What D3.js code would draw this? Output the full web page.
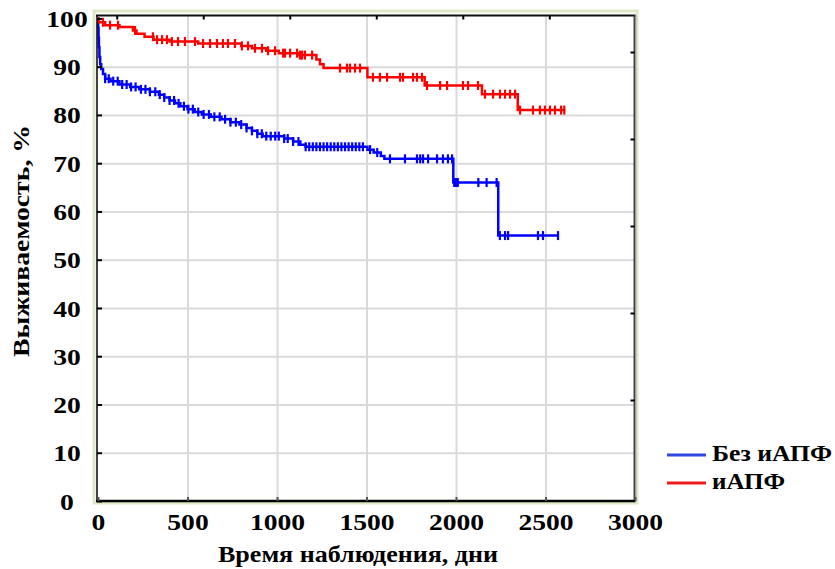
<!DOCTYPE html>
<html>
<head>
<meta charset="utf-8">
<script src="https://cdn.jsdelivr.net/npm/d3@7"></script>
<style>
  html, body { margin: 0; padding: 0; background: #ffffff; }
  svg { display: block; }
  text { font-family: "Liberation Serif", "Times New Roman", serif; font-weight: bold; fill: #000; }
</style>
</head>
<body>
<svg id="chart" width="835" height="569"></svg>
<script>
// Kaplan–Meier survival, two groups: step times (days) and survival (%) after each step
const groupNames = ["Без иАПФ", "иАПФ"];
const groupColors = ["#0000ff", "#ff0000"];

const stepTimesNoAce = [0, 1, 3, 5, 8, 12, 18, 28, 40, 70, 120, 180, 230, 290, 340, 370, 400, 430, 460, 500,
  540, 580, 630, 690, 740, 790, 830, 860, 890, 920, 1040, 1090, 1130, 1160, 1505, 1540, 1580, 1600, 1985, 2236];
const survNoAce = [100, 98, 96, 94, 92, 90.5, 89.5, 88.5, 87.5, 87, 86.3, 85.8, 85.3, 84.8, 84.2, 83.6, 83, 82.4, 81.8, 81.2,
  80.6, 80.1, 79.6, 79.1, 78.5, 78, 77.3, 76.7, 76.1, 75.6, 75.1, 74.5, 73.8, 73.4, 72.8, 72.2, 71.5, 70.9, 66, 55];
const lastTimeNoAce = 2575;
const censorNoAce = [40, 60, 85, 110, 135, 160, 185, 210, 240, 265, 290, 320, 345, 370, 400, 425, 450, 480, 505, 530,
  560, 590, 620, 650, 680, 710, 740, 770, 800, 830, 860, 890, 915, 940, 965, 990, 1010, 1040, 1060, 1090, 1120,
  1160, 1180, 1200, 1220, 1240, 1260, 1280, 1300, 1320, 1340, 1360, 1380, 1400, 1420, 1440, 1460, 1480, 1520, 1560,
  1631, 1715, 1782, 1800, 1816, 1844, 1894, 1927, 1955, 1978, 1990, 2000, 2010, 2125, 2171, 2227,
  2245, 2274, 2291, 2458, 2486, 2570];

const stepTimesAce = [0, 3, 40, 120, 195, 215, 260, 310, 400, 560, 800, 860, 940, 1010, 1120, 1220, 1240, 1260,
  1505, 1825, 2145, 2345];
const survAce = [100, 99.2, 98.6, 98.2, 97.5, 96.8, 96.2, 95.6, 95.2, 94.8, 94.3, 93.8, 93.3, 92.8, 92.4, 91.5, 90.5, 89.7,
  87.8, 86.1, 84.3, 81.0];
const lastTimeAce = 2610;
const censorAce = [28, 67, 112, 207, 307, 330, 358, 385, 413, 447, 486, 542, 587, 626, 665, 698, 726, 765, 804,
  838, 877, 916, 950, 989, 1034, 1045, 1073, 1112, 1128, 1140, 1156, 1196, 1352, 1391, 1408, 1436, 1464,
  1536, 1575, 1615, 1687, 1704, 1760, 1782, 1810, 1838, 1911, 1950, 2039, 2067, 2123, 2162, 2207, 2246,
  2274, 2302, 2330, 2358, 2430, 2469, 2497, 2525, 2553, 2587, 2605];

// axis ticks
const xTicks = [0, 500, 1000, 1500, 2000, 2500, 3000];
const yTicks = [0, 10, 20, 30, 40, 50, 60, 70, 80, 90, 100];
const xTitle = "Время наблюдения, дни";
const yTitle = "Выживаемость, %";

const svg = d3.select("#chart");

// plot geometry
const plotLeft = 97, plotRight = 634.5, plotTop = 15.5, plotBottom = 501;
const x = d3.scaleLinear().domain([0, 3000]).range([98, 635]);
const y = d3.scaleLinear().domain([0, 100]).range([501, 18.4]);

// pale outer frame
svg.append("rect")
  .attr("x", 94).attr("y", 11)
  .attr("width", 543).attr("height", 492)
  .attr("fill", "none").attr("stroke", "#dde8c6").attr("stroke-width", 3);

// plot background
svg.append("rect")
  .attr("x", plotLeft).attr("y", plotTop)
  .attr("width", plotRight - plotLeft).attr("height", plotBottom - plotTop)
  .attr("fill", "#ffffff");

// gridlines
const gridX = svg.append("g")
  .attr("transform", `translate(0,${plotBottom})`)
  .call(d3.axisBottom(x).tickValues(xTicks.slice(1, -1)).tickSize(-(plotBottom - plotTop)).tickFormat(""));
const gridY = svg.append("g")
  .attr("transform", `translate(${plotLeft},0)`)
  .call(d3.axisLeft(y).tickValues(yTicks.slice(1, -1)).tickSize(-(plotRight - plotLeft)).tickFormat(""));
[gridX, gridY].forEach(g => {
  g.select(".domain").remove();
  g.selectAll("line").attr("stroke", "#dadada").attr("stroke-width", 2);
});

// curves
const line = d3.line()
  .x(d => x(d[0]))
  .y(d => y(d[1]))
  .curve(d3.curveStepAfter);

function stepPoints(times, surv, last) {
  const pts = times.map((t, i) => [t, surv[i]]);
  pts.push([last, surv[surv.length - 1]]);
  return pts;
}
function survAt(times, surv, t) {
  let v = surv[0];
  for (let i = 0; i < times.length; i++) { if (times[i] <= t) v = surv[i]; }
  return v;
}

const groups = [
  { times: stepTimesNoAce, surv: survNoAce, last: lastTimeNoAce, censor: censorNoAce, color: groupColors[0] },
  { times: stepTimesAce, surv: survAce, last: lastTimeAce, censor: censorAce, color: groupColors[1] }
];

groups.forEach(gr => {
  const g = svg.append("g");
  g.append("path")
    .datum(stepPoints(gr.times, gr.surv, gr.last))
    .attr("fill", "none")
    .attr("stroke", gr.color)
    .attr("stroke-width", 2.5)
    .attr("d", line);
  // censored observations
  g.selectAll("line.cens")
    .data(gr.censor)
    .join("line")
    .attr("class", "cens")
    .attr("x1", d => x(d)).attr("x2", d => x(d))
    .attr("y1", d => y(survAt(gr.times, gr.surv, d)) - 4.5)
    .attr("y2", d => y(survAt(gr.times, gr.surv, d)) + 4.5)
    .attr("stroke", gr.color)
    .attr("stroke-width", 2.2);
});

// plot border
svg.append("line").attr("x1", plotLeft - 1).attr("x2", plotRight + 1).attr("y1", plotTop).attr("y2", plotTop)
  .attr("stroke", "#111").attr("stroke-width", 2);
svg.append("line").attr("x1", plotRight).attr("x2", plotRight).attr("y1", plotTop).attr("y2", plotBottom)
  .attr("stroke", "#444").attr("stroke-width", 2);
svg.append("line").attr("x1", plotRight + 2).attr("x2", plotRight + 2).attr("y1", plotTop).attr("y2", plotBottom)
  .attr("stroke", "#c8c8c8").attr("stroke-width", 1);

// secondary top and right tick marks
const topScale = d3.scaleLinear().domain([0, 6]).range([30.2, 549.3]);
const topAxis = svg.append("g").attr("transform", `translate(0,${plotTop})`)
  .call(d3.axisTop(topScale).tickValues([1, 2, 3, 4, 5, 6]).tickSize(-4).tickFormat(""));
const rightScale = d3.scaleLinear().domain([0, 4]).range([52, 400]);
const rightAxis = svg.append("g").attr("transform", `translate(${plotRight},0)`)
  .call(d3.axisRight(rightScale).tickValues([0, 1, 2, 3, 4]).tickSize(-4).tickFormat(""));
[topAxis, rightAxis].forEach(g => {
  g.select(".domain").remove();
  g.selectAll("line").attr("stroke", "#000").attr("stroke-width", 2);
});

// left axis
const yAxis = svg.append("g")
  .attr("transform", `translate(${plotLeft},0)`)
  .call(d3.axisLeft(y).tickValues(yTicks).tickSize(-5).tickFormat(d3.format("d")));
yAxis.select(".domain").attr("stroke", "#111").attr("stroke-width", 1.6)
  .attr("d", `M0,${plotTop}V${plotBottom}`);
yAxis.selectAll(".tick line").attr("stroke", "#000").attr("stroke-width", 2);
yAxis.selectAll(".tick text")
  .attr("x", 0).attr("dy", "0.35em")
  .attr("text-anchor", "middle")
  .attr("transform", "translate(-30,0) scale(1.2,1)")
  .style("font-size", "23px").style("font-family", "Liberation Serif").style("font-weight", "bold")
  .attr("fill", "#000");

// bottom axis
const xAxis = svg.append("g")
  .attr("transform", `translate(0,${plotBottom})`)
  .call(d3.axisBottom(x).tickValues(xTicks).tickSize(-4).tickFormat(d3.format("d")));
xAxis.select(".domain").attr("stroke", "#000").attr("stroke-width", 2.5)
  .attr("d", `M${plotLeft - 1},0H${plotRight + 1}`);
xAxis.selectAll(".tick line").attr("stroke", "#555").attr("stroke-width", 2);
xAxis.selectAll(".tick text")
  .attr("y", 0).attr("dy", 0)
  .attr("text-anchor", "middle")
  .attr("transform", "translate(0,29) scale(1.2,1)")
  .style("font-size", "23px").style("font-family", "Liberation Serif").style("font-weight", "bold")
  .attr("fill", "#000");

// axis titles
svg.append("text")
  .attr("x", 358).attr("y", 562)
  .attr("text-anchor", "middle")
  .attr("textLength", 280).attr("lengthAdjust", "spacingAndGlyphs")
  .style("font-size", "23px")
  .text(xTitle);

svg.append("text")
  .attr("transform", "translate(29,241) rotate(-90)")
  .attr("text-anchor", "middle")
  .attr("textLength", 232).attr("lengthAdjust", "spacingAndGlyphs")
  .style("font-size", "23px")
  .text(yTitle);

// legend
const legendRows = [
  { name: groupNames[0], color: "#3048e0", y: 455, w: 120 },
  { name: groupNames[1], color: "#ee1c1c", y: 483, w: 73 }
];
const legend = svg.append("g");
legendRows.forEach(r => {
  legend.append("line")
    .attr("x1", 667).attr("x2", 706).attr("y1", r.y).attr("y2", r.y)
    .attr("stroke", r.color).attr("stroke-width", 3.2);
  legend.append("text")
    .attr("x", 712).attr("y", r.y + 6)
    .attr("textLength", r.w).attr("lengthAdjust", "spacingAndGlyphs")
    .style("font-size", "23px")
    .text(r.name);
});
</script>
</body>
</html>
